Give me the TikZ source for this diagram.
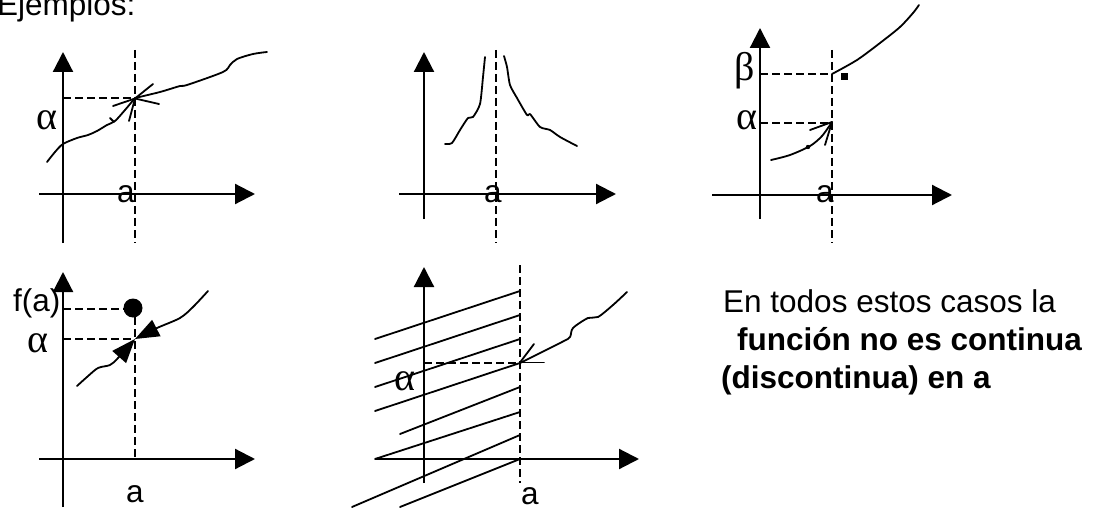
\documentclass[tikz,border=0pt]{standalone}
\usepackage{fontspec}
\setmainfont{Liberation Sans}
\newfontfamily\grk{Liberation Serif}
\usetikzlibrary{arrows.meta}
\begin{document}
\begin{tikzpicture}[x=1pt,y=-1pt,
  txt/.style={font=\fontsize{31.5}{38}\selectfont, inner sep=0pt, anchor=base},
  btxt/.style={font=\fontsize{31.5}{38}\selectfont\bfseries, inner sep=0pt, anchor=base west},
  gtxt/.style={font=\fontsize{40}{44}\selectfont\grk, inner sep=0pt, anchor=base},
  ax/.style={line width=2.2pt, -{Triangle[length=20pt,width=20pt]}},
  dsh/.style={line width=1.8pt, dash pattern=on 8pt off 4pt},
  crv/.style={line width=1.8pt, line join=round, line cap=round},
  farr/.style={crv, -{Triangle[length=24pt,width=18pt]}},
]
\useasboundingbox (0,0) rectangle (1093,508);

% title
\node[txt, anchor=base west] (ej) at (-3,16) {Ejemplos:};

% ---------- panel 1 ----------
\draw[ax] (63,243) -- (63,52);
\draw[ax] (39,194) -- (255,194);
\draw[dsh] (135,50) -- (135,243);
\draw[dsh] (63,98) -- (135,98);
\draw[crv] plot[smooth, tension=0.5] coordinates {(47,162) (55,152) (63,144) (77,138) (88,135) (97,131) (107,125) (115,121) (125,110) (135,98)};
\draw[crv] plot[smooth, tension=0.5] coordinates {(135,98) (160,92) (180,86) (187,85) (223,72) (230,65) (237,59) (253,54) (267,52)};
\coordinate (j1) at (135,98.5);
\draw[crv] (113,106) -- (j1) -- (129,121);
\draw[crv] (153,84) -- (j1) -- (159,104);
\draw[crv] (110,118) -- (114,122);
\node[gtxt] (al1) at (47,130) {α};
\node[txt] (a1) at (126,202) {a};

% ---------- panel 2 ----------
\draw[ax] (424,219) -- (424,52);
\draw[ax] (399,194) -- (616,194);
\draw[dsh] (496,50) -- (496,243);
\draw[crv] plot[smooth, tension=0.4] coordinates {(445,144) (452,143) (460,130) (468,118) (473,117) (480,104) (483,77) (485,57)};
\draw[crv] plot[smooth, tension=0.4] coordinates {(504,56) (507,67) (510,85) (517,98) (527,115) (530,114) (540,127) (550,130) (560,137) (577,146)};
\node[txt] (a2) at (493,202) {a};

% ---------- panel 3 ----------
\draw[ax] (760,219) -- (760,28);
\draw[ax] (712,195) -- (952,195);
\draw[dsh] (832,50) -- (832,243);
\draw[dsh] (760,74) -- (832,74);
\draw[dsh] (760,123) -- (832,123);
\draw[crv] plot[smooth, tension=0.5] coordinates {(832,74) (857,60) (880,43) (900,27) (913,13) (919,5)};
\draw[crv] plot[smooth, tension=0.5] coordinates {(771,160) (790,155) (810,146) (822,136) (832,122)};
\coordinate (j3) at (832,122);
\draw[crv] (810,130) -- (j3) -- (825,145);
\fill (808,147) circle[radius=2.2pt];
\fill (840.5,73.5) rectangle (847.5,80.5);
\node[gtxt] (be3) at (745,81) {β};
\node[gtxt] (al3) at (747,130) {α};
\node[txt] (a3) at (825,202) {a};

% ---------- panel 4 ----------
\draw[ax] (63,507) -- (63,272);
\draw[ax] (39,459) -- (255,459);
\draw[dsh] (135,317) -- (135,459);
\draw[dsh] (63,309) -- (124,309);
\draw[dsh] (63,339) -- (135,339);
\fill (133,308) circle[radius=9.5pt];
\draw[farr] plot[smooth, tension=0.5] coordinates {(77,386) (87,377) (98,368) (110,365) (118,358) (135,339)};
\draw[farr] plot[smooth, tension=0.5] coordinates {(208,291) (193,307) (180,318) (157,328) (135,339)};
\node[txt, anchor=base west] (fa) at (13,311) {f(a)};
\node[gtxt] (al4) at (38,352) {α};
\node[txt] (a4) at (135,502) {a};

% ---------- panel 5 ----------
\draw[crv] (375,339) -- (520,291);
\draw[crv] (375,363) -- (520,315);
\draw[crv] (375,387) -- (520,339);
\draw[crv] (375,411) -- (520,363);
\draw[crv] (400,434) -- (520,387);
\draw[crv] (375,459) -- (520,412);
\draw[crv] (352,507) -- (520,435);
\draw[crv] (400,507) -- (520,459);
\draw[ax] (424,483) -- (424,267);
\draw[ax] (375,459) -- (639,459);
\draw[dsh] (520,265) -- (520,483);
\draw[dsh] (424,363) -- (520,363);
\coordinate (j5) at (520,362.5);
\draw[crv] (j5) -- (544,362.5);
\draw[crv] (j5) -- (534,344);
\draw[crv] plot[smooth, tension=0.5] coordinates {(627,292) (613,305) (598,317) (588,318) (573,328) (570,337) (562,342) (520,363)};
\node[gtxt] (al5) at (405,390) {α};
\node[txt] (a5) at (530,504) {a};

% ---------- text ----------
\node[txt, anchor=base west] (t1) at (723,312) {En todos estos casos la};
\node[btxt] (t2) at (737,350) {función no es continua};
\node[btxt] (t3) at (721,388) {(discontinua) en a};
\end{tikzpicture}
\end{document}
